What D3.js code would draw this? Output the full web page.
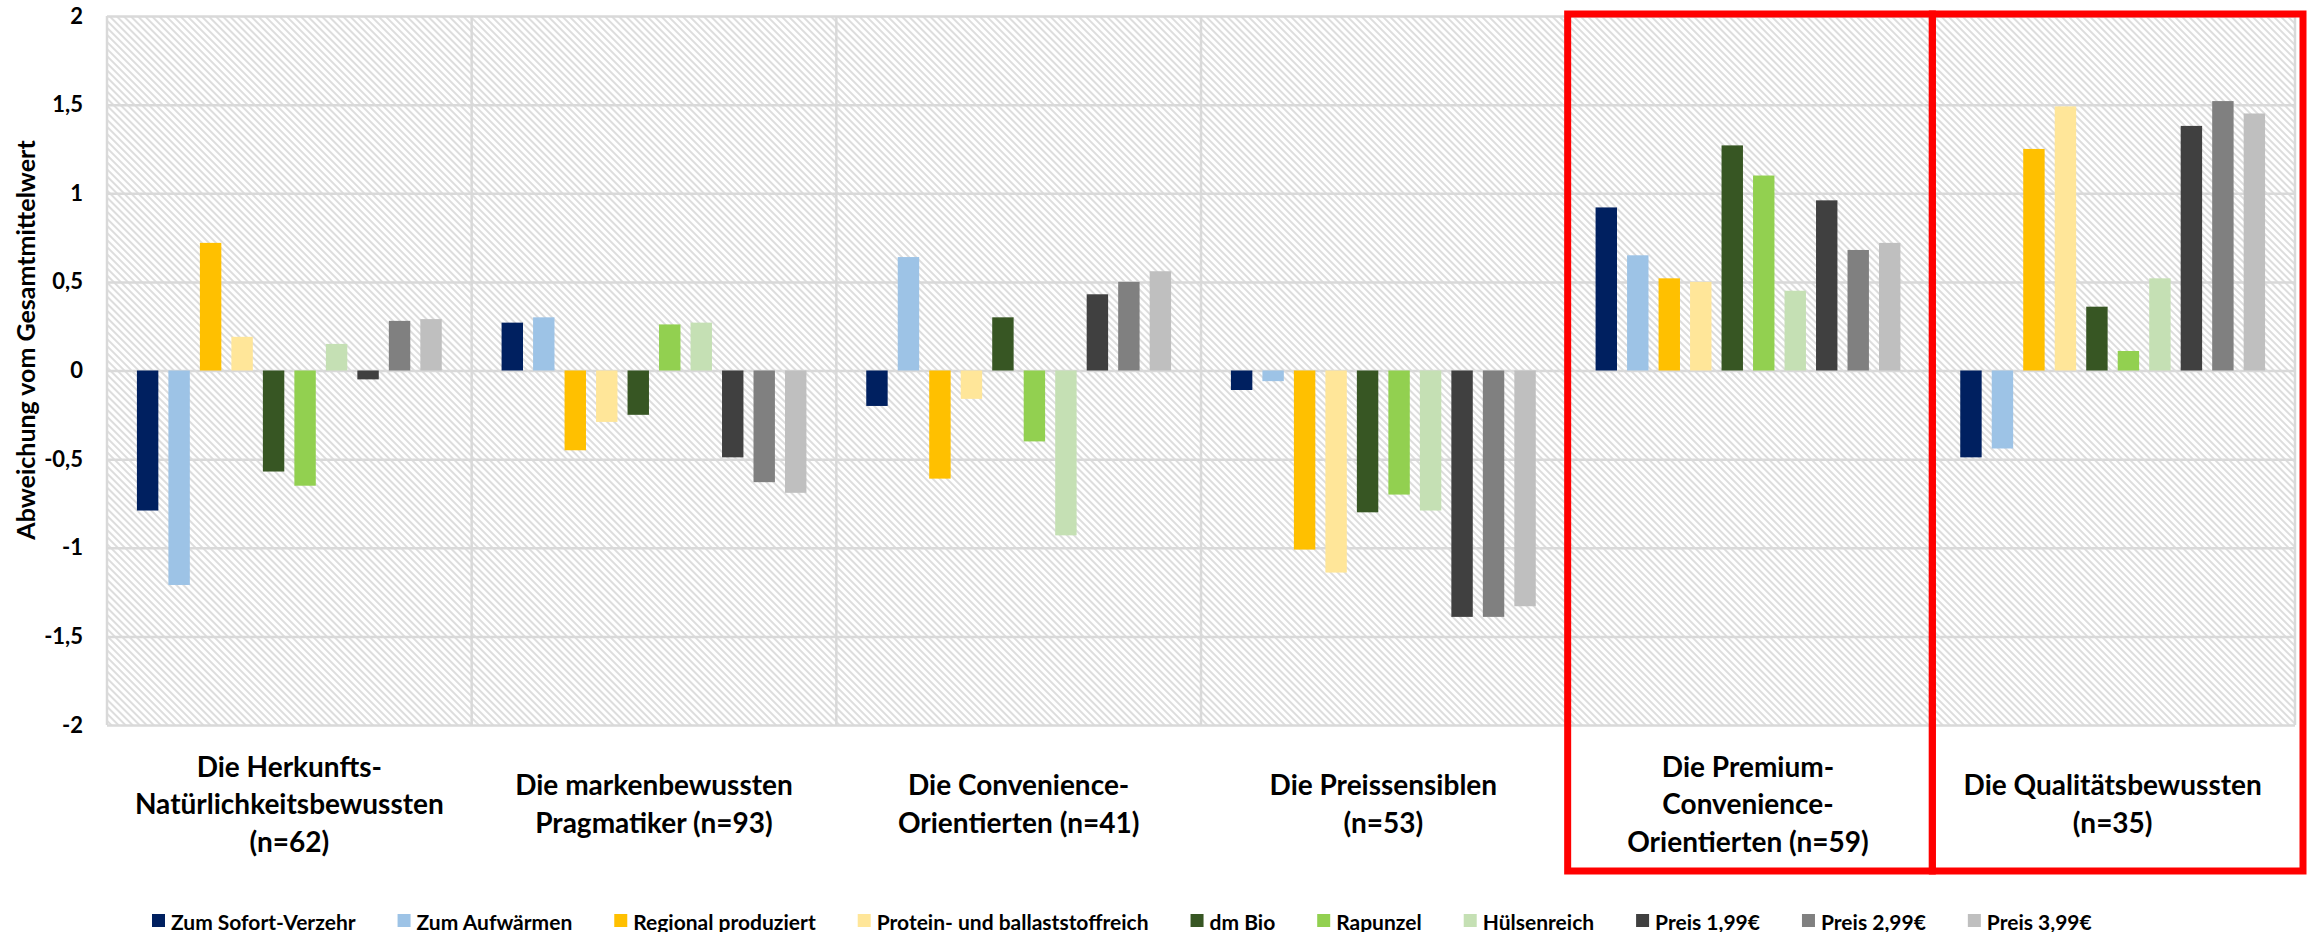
<!DOCTYPE html>
<html>
<head>
<meta charset="utf-8">
<script src="https://cdn.jsdelivr.net/npm/d3@7/dist/d3.min.js"></script>
<style>
  body { margin: 0; background: #fff; }
  svg { display: block; font-family: Lato, 'Open Sans', sans-serif; font-weight: bold; }
</style>
</head>
<body>
<svg id="chart" width="2318" height="932"></svg>
<script>
// cluster labels, one entry per line
var categories = [
  ['Die Herkunfts-', 'Natürlichkeitsbewussten', '(n=62)'],
  ['Die markenbewussten', 'Pragmatiker (n=93)'],
  ['Die Convenience-', 'Orientierten (n=41)'],
  ['Die Preissensiblen', '(n=53)'],
  ['Die Premium-', 'Convenience-', 'Orientierten (n=59)'],
  ['Die Qualitätsbewussten', '(n=35)']
];
var highlighted = [4, 5]; // clusters framed in red

var seriesNames = [
  'Zum Sofort-Verzehr', 'Zum Aufwärmen', 'Regional produziert',
  'Protein- und ballaststoffreich', 'dm Bio', 'Rapunzel', 'Hülsenreich',
  'Preis 1,99€', 'Preis 2,99€', 'Preis 3,99€'
];
var seriesColors = [
  '#002060', '#9dc3e6', '#ffc000', '#ffe699', '#375623',
  '#92d050', '#c5e0b4', '#404040', '#808080', '#bfbfbf'
];

// deviation from overall mean, rows = clusters, columns = series
var values = [
  [-0.79, -1.21, 0.72, 0.19, -0.57, -0.65, 0.15, -0.05, 0.28, 0.29],
  [0.27, 0.30, -0.45, -0.29, -0.25, 0.26, 0.27, -0.49, -0.63, -0.69],
  [-0.20, 0.64, -0.61, -0.16, 0.30, -0.40, -0.93, 0.43, 0.50, 0.56],
  [-0.11, -0.06, -1.01, -1.14, -0.80, -0.70, -0.79, -1.39, -1.39, -1.33],
  [0.92, 0.65, 0.52, 0.50, 1.27, 1.10, 0.45, 0.96, 0.68, 0.72],
  [-0.49, -0.44, 1.25, 1.49, 0.36, 0.11, 0.52, 1.38, 1.52, 1.45]
];

var yTicks = [-2, -1.5, -1, -0.5, 0, 0.5, 1, 1.5, 2];
var yTitle = 'Abweichung vom Gesamtmittelwert';

var G = {
  plot: { left: 107, right: 2295, top: 16, bottom: 725 },
  grid: '#d9d9d9'
};

var svg = d3.select('#chart');
var defs = svg.append('defs');

// diagonal hatch ("\\\\") like Excel's wide downward diagonal fill
defs.append('pattern')
  .attr('id', 'hatch')
  .attr('patternUnits', 'userSpaceOnUse')
  .attr('width', 5)
  .attr('height', 5)
  .attr('patternTransform', 'rotate(-45)')
  .append('line')
  .attr('x1', 1).attr('y1', 0)
  .attr('x2', 1).attr('y2', 5)
  .attr('stroke', '#d2d2d2')
  .attr('stroke-width', 1.5);

var x = d3.scaleBand()
  .domain(d3.range(categories.length))
  .range([G.plot.left, G.plot.right])
  .padding(0);

var xs = d3.scaleBand()
  .domain(d3.range(seriesNames.length))
  .range([0, x.bandwidth()])
  .paddingInner(0.32)
  .paddingOuter(0.95);

var y = d3.scaleLinear()
  .domain([-2, 2])
  .range([G.plot.bottom, G.plot.top]);

// plot background
svg.append('rect')
  .attr('x', G.plot.left)
  .attr('y', G.plot.top)
  .attr('width', G.plot.right - G.plot.left)
  .attr('height', G.plot.bottom - G.plot.top)
  .attr('fill', 'url(#hatch)');

// horizontal gridlines + tick labels
var yAxis = d3.axisLeft(y)
  .tickValues(yTicks)
  .tickSize(-(G.plot.right - G.plot.left))
  .tickPadding(24)
  .tickFormat(function(d) { return String(d).replace('.', ','); });

var ya = svg.append('g')
  .attr('transform', 'translate(' + G.plot.left + ',0)')
  .call(yAxis);
ya.select('.domain').remove();
ya.selectAll('.tick line')
  .attr('stroke', G.grid)
  .attr('stroke-width', 2.5);
ya.selectAll('.tick text')
  .attr('fill', '#000')
  .style('font-size', '22px')
  .style('font-family', 'Lato, sans-serif');

// vertical separators between clusters
var bounds = d3.range(categories.length + 1).map(function(i) {
  return i < categories.length ? x(i) : x(i - 1) + x.bandwidth();
});
svg.append('g').selectAll('line')
  .data(bounds)
  .enter()
  .append('line')
  .attr('x1', function(d) { return d; })
  .attr('x2', function(d) { return d; })
  .attr('y1', G.plot.top)
  .attr('y2', G.plot.bottom)
  .attr('stroke', G.grid)
  .attr('stroke-width', 2.5);

// bars
var groups = svg.append('g').selectAll('g')
  .data(values)
  .enter()
  .append('g')
  .attr('transform', function(d, i) { return 'translate(' + x(i) + ',0)'; });

groups.selectAll('rect')
  .data(function(d) { return d; })
  .enter()
  .append('rect')
  .attr('x', function(d, j) { return xs(j); })
  .attr('width', xs.bandwidth())
  .attr('y', function(d) { return y(Math.max(0, d)); })
  .attr('height', function(d) { return Math.abs(y(d) - y(0)); })
  .attr('fill', function(d, j) { return seriesColors[j]; });

// category labels, block centred below the plot
var lineH = 37.5;
var labelMid = 803;
svg.append('g').selectAll('text')
  .data(categories)
  .enter()
  .append('text')
  .attr('text-anchor', 'middle')
  .attr('dominant-baseline', 'central')
  .style('font-size', '28px')
  .attr('fill', '#000')
  .each(function(lines, i) {
    var t = d3.select(this);
    var y0 = labelMid - (lines.length - 1) * lineH / 2;
    lines.forEach(function(s, k) {
      t.append('tspan')
        .attr('x', x(i) + x.bandwidth() / 2)
        .attr('y', y0 + k * lineH)
        .text(s);
    });
  });

// y axis title
svg.append('text')
  .attr('transform', 'translate(25,340) rotate(-90)')
  .attr('text-anchor', 'middle')
  .attr('dominant-baseline', 'central')
  .style('font-size', '25px')
  .text(yTitle);

// red frames around the highlighted clusters
svg.append('g').selectAll('rect')
  .data(highlighted)
  .enter()
  .append('rect')
  .attr('x', function(i) { return x(i) + 2; })
  .attr('y', G.plot.top - 2)
  .attr('width', function(i, k) { return x.bandwidth() + (k === highlighted.length - 1 ? 6 : 0); })
  .attr('height', 873 - G.plot.top)
  .attr('fill', 'none')
  .attr('stroke', '#ff0000')
  .attr('stroke-width', 7);

// legend
var legend = svg.append('g')
  .attr('transform', 'translate(0,921)');
var lx = 152;
seriesNames.forEach(function(name, j) {
  var item = legend.append('g').attr('transform', 'translate(' + lx + ',0)');
  item.append('rect')
    .attr('x', 0)
    .attr('y', -7)
    .attr('width', 13)
    .attr('height', 13)
    .attr('fill', seriesColors[j]);
  var t = item.append('text')
    .attr('x', 19)
    .attr('dominant-baseline', 'central')
    .style('font-size', '21px')
    .text(name);
  lx += 19 + t.node().getComputedTextLength() + 42;
});
</script>
</body>
</html>
